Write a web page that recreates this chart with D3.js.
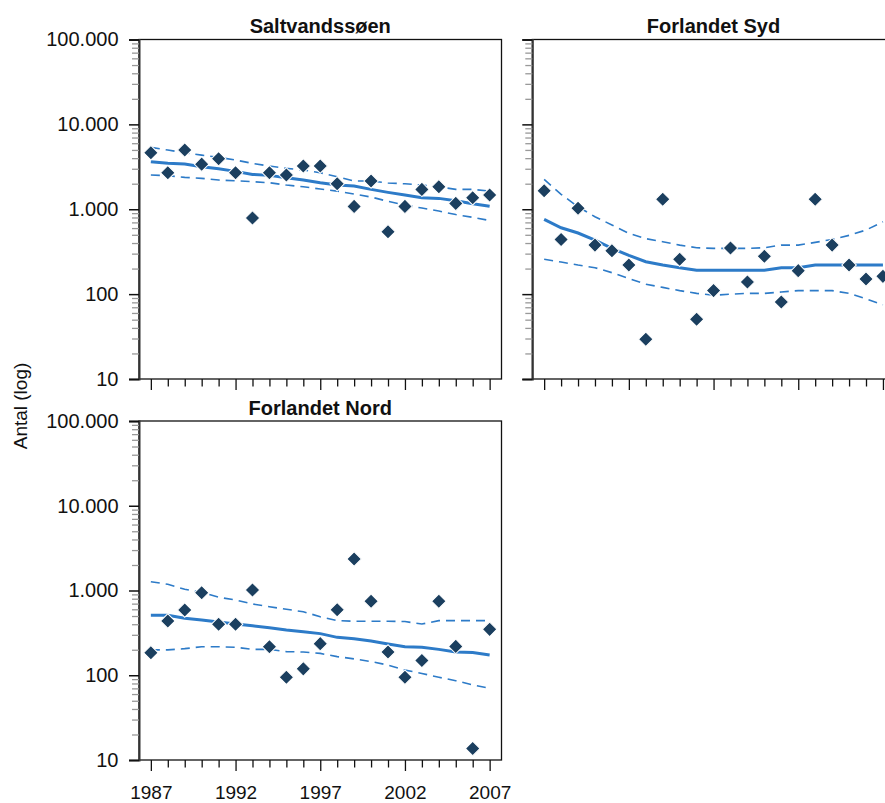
<!DOCTYPE html>
<html><head><meta charset="utf-8">
<script src="https://cdn.jsdelivr.net/npm/d3@7"></script>
<style>
html,body{margin:0;padding:0;background:#fff;}
svg{display:block;font-family:"Liberation Sans",Arial,Helvetica,sans-serif;}
</style></head>
<body>
<svg id="chart" width="885" height="803"></svg>
<script>
// ---------- data ----------
const years = d3.range(1987, 2008);
const siteNames = ["Saltvandssøen", "Forlandet Syd", "Forlandet Nord"];

const saltObs   = [4630, 2690, 4980, 3400, 3940, 2690, 787, 2690, 2530, 3230, 3230, 1995, 1081, 2148, 543, 1081, 1714, 1841, 1172, 1368, 1469];
const saltFit   = [3624, 3475, 3406, 3168, 3001, 2793, 2575, 2507, 2350, 2208, 2047, 1928, 1877, 1715, 1581, 1469, 1365, 1343, 1259, 1161, 1082];
const saltUpper = [5360, 4980, 4627, 4347, 4084, 3800, 3475, 3228, 3034, 2898, 2693, 2416, 2148, 2148, 2036, 1996, 1928, 1841, 1715, 1715, 1637];
const saltLower = [2530, 2483, 2377, 2313, 2208, 2167, 2110, 2053, 1928, 1841, 1729, 1637, 1510, 1393, 1239, 1120, 1033, 952, 866, 803, 737];

const sydObs   = [1652, 441, 1026, 378, 324, 220, 29.4, 1309, 257, 50.5, 110, 349, 139, 279, 80.7, 189, 1309, 378, 220, 151, 162];
const sydFit   = [760, 605, 525, 434, 346, 286, 241, 220, 205, 191, 191, 191, 191, 191, 205, 205, 220, 220, 220, 220, 220];
const sydUpper = [2250, 1500, 1070, 816, 652, 520, 450, 414, 378, 352, 346, 346, 346, 352, 378, 378, 407, 441, 492, 569, 712];
const sydLower = [257, 239, 220, 205, 179, 153, 131, 120, 110, 102, 97, 100, 102, 102, 106, 110, 110, 110, 102, 88, 75];

const nordObs   = [184, 437, 589, 942, 399, 399, 1014, 217, 94.6, 119, 236, 594, 2355, 745, 188, 94.6, 149, 745, 219, 13.7, 348];
const nordFit   = [509, 509, 470, 449, 425, 402, 384, 364, 342, 327, 310, 280, 270, 254, 234, 217, 214, 202, 188, 185, 173];
const nordUpper = [1270, 1183, 1033, 952, 832, 773, 693, 644, 600, 562, 490, 441, 433, 433, 433, 430, 402, 441, 441, 441, 441];
const nordLower = [199, 199, 206, 217, 217, 214, 202, 202, 190, 188, 181, 166, 156, 145, 132, 115, 105, 94.7, 86.3, 76.7, 70.2];

const majorYears = [1987, 1992, 1997, 2002, 2007];
const decades = [10, 100, 1000, 10000, 100000];
const yAxisTitle = "Antal (log)";

// ---------- layout ----------
const svg = d3.select("#chart");
const panels = [
  {name: siteNames[0], obs: saltObs, fit: saltFit, up: saltUpper, lo: saltLower,
   x0: 139, x1: 501.5, y0: 39.5, y1: 379, yLabels: true, xLabels: false},
  {name: siteNames[1], obs: sydObs, fit: sydFit, up: sydUpper, lo: sydLower,
   x0: 532.3, x1: 894.8, y0: 39.5, y1: 379, yLabels: false, xLabels: false},
  {name: siteNames[2], obs: nordObs, fit: nordFit, up: nordUpper, lo: nordLower,
   x0: 139, x1: 501.5, y0: 421, y1: 760, yLabels: true, xLabels: true}
];

const daLocale = d3.formatLocale({decimal: ",", thousands: ".", grouping: [3], currency: ["", " kr"]});
const fmt = daLocale.format(",d");

const minorVals = [];
decades.slice(0, -1).forEach(d => { for (let k = 1; k <= 9; k++) minorVals.push(d * k); });
minorVals.push(100000);

const lineCol = "#2d7bc8";
const markCol = "#1b3f5f";

panels.forEach((p, pi) => {
  const x = d3.scaleLinear().domain([1986.3, 2007.7]).range([p.x0, p.x1]);
  const y = d3.scaleLog().domain([10, 100000]).range([p.y1, p.y0]);
  const g = svg.append("g");

  // frame
  g.append("rect").attr("x", p.x0).attr("y", p.y0)
    .attr("width", p.x1 - p.x0).attr("height", p.y1 - p.y0)
    .attr("fill", "none").attr("stroke", "#111").attr("stroke-width", 1.3);

  // y axis
  const ya = d3.axisLeft(y).tickValues(minorVals).tickSize(10).tickPadding(10.5)
    .tickFormat(d => (p.yLabels && decades.includes(d)) ? fmt(d) : "");
  const yg = g.append("g").attr("transform", `translate(${p.x0},0)`).call(ya);
  yg.select(".domain").attr("stroke", "#333").attr("stroke-width", 2);
  yg.selectAll(".tick line")
    .attr("x2", d => decades.includes(d) ? -10 : -7)
    .attr("stroke", d => decades.includes(d) ? "#111" : "#999")
    .attr("stroke-width", d => decades.includes(d) ? 1.5 : 1.3);
  yg.selectAll(".tick text").attr("font-size", 20).attr("fill", "#111")
    .attr("font-family", '"Liberation Sans",Arial,sans-serif');

  // x axis
  const xa = d3.axisBottom(x).tickValues(years).tickSize(11).tickPadding(15)
    .tickFormat(d => (p.xLabels && majorYears.includes(d)) ? String(d) : "");
  const xg = g.append("g").attr("transform", `translate(0,${p.y1})`).call(xa);
  xg.select(".domain").remove();
  xg.selectAll(".tick line")
    .attr("y2", d => majorYears.includes(d) ? 11 : 7.5)
    .attr("stroke", "#111").attr("stroke-width", 1.3);
  xg.selectAll(".tick text").attr("font-size", 19).attr("fill", "#111")
    .attr("font-family", '"Liberation Sans",Arial,sans-serif');

  // title
  g.append("text").attr("x", (p.x0 + p.x1) / 2).attr("y", p.y0 - 6.5)
    .attr("text-anchor", "middle").attr("font-weight", "bold").attr("font-size", 20)
    .attr("fill", "#111").text(p.name);

  const clipId = "clip" + pi;
  svg.append("clipPath").attr("id", clipId).append("rect")
    .attr("x", p.x0).attr("y", p.y0).attr("width", p.x1 - p.x0).attr("height", p.y1 - p.y0);
  const plot = g.append("g").attr("clip-path", `url(#${clipId})`);

  const line = d3.line().x((d, i) => x(years[i])).y(d => y(d));
  [p.up, p.lo].forEach(arr => {
    plot.append("path").datum(arr).attr("d", line).attr("fill", "none")
      .attr("stroke", lineCol).attr("stroke-width", 1.6).attr("stroke-dasharray", "9,6");
  });
  plot.append("path").datum(p.fit).attr("d", line).attr("fill", "none")
    .attr("stroke", lineCol).attr("stroke-width", 3);

  const sym = d3.symbol().type(d3.symbolSquare).size(105);
  g.append("g").selectAll("path").data(p.obs).join("path")
    .attr("d", sym)
    .attr("transform", (d, i) => `translate(${x(years[i])},${y(d)}) rotate(45)`)
    .attr("fill", markCol).attr("stroke", "#fff").attr("stroke-width", 1);
});

// y axis title
svg.append("text").attr("transform", "translate(27,406) rotate(-90)")
  .attr("text-anchor", "middle").attr("font-size", 19).attr("fill", "#111")
  .text(yAxisTitle);
</script>
</body></html>
